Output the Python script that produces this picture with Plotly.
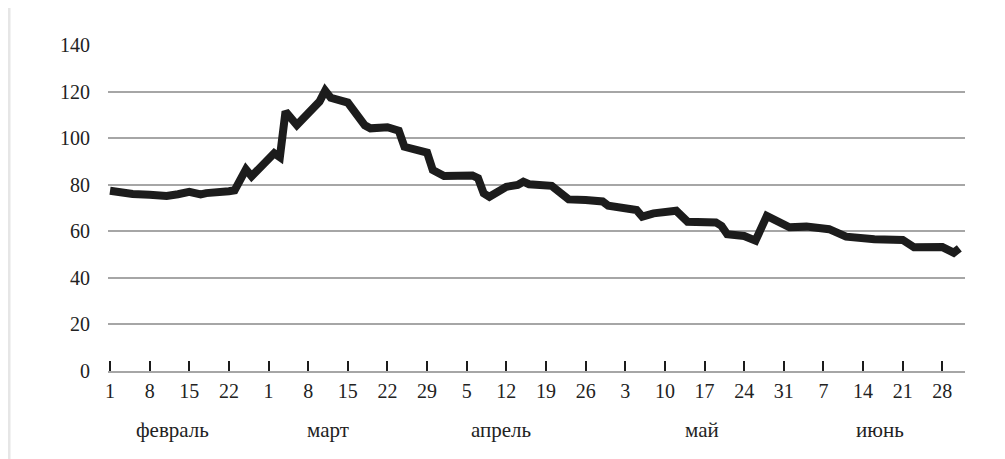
import plotly.graph_objects as go

dates = ["2022-02-01", "2022-02-03", "2022-02-05", "2022-02-08", "2022-02-11", "2022-02-13",
         "2022-02-15", "2022-02-17", "2022-02-18", "2022-02-22", "2022-02-23", "2022-02-25",
         "2022-02-26", "2022-03-02", "2022-03-03", "2022-03-04", "2022-03-06", "2022-03-10",
         "2022-03-11", "2022-03-12", "2022-03-15", "2022-03-18", "2022-03-19", "2022-03-22",
         "2022-03-24", "2022-03-25", "2022-03-29", "2022-03-30", "2022-04-01", "2022-04-06",
         "2022-04-07", "2022-04-08", "2022-04-09", "2022-04-12", "2022-04-14", "2022-04-15",
         "2022-04-16", "2022-04-20", "2022-04-23", "2022-04-26", "2022-04-28", "2022-04-29",
         "2022-04-30", "2022-05-05", "2022-05-06", "2022-05-08", "2022-05-12", "2022-05-14",
         "2022-05-19", "2022-05-20", "2022-05-21", "2022-05-24", "2022-05-26", "2022-05-28",
         "2022-06-01", "2022-06-04", "2022-06-08", "2022-06-10", "2022-06-11", "2022-06-16",
         "2022-06-21", "2022-06-23", "2022-06-28", "2022-06-30", "2022-07-01"]
values = [77.4, 76.6, 76.0, 75.7, 75.2, 75.9,
          76.9, 75.8, 76.4, 77.2, 77.6, 86.6,
          83.6, 93.5, 91.8, 111.4, 105.6, 115.7,
          120.4, 117.3, 115.3, 105.5, 104.2, 104.7,
          103.2, 96.3, 93.8, 86.3, 83.7, 84.0,
          82.8, 76.3, 74.8, 79.1, 79.9, 81.3,
          80.2, 79.5, 73.7, 73.4, 72.7, 72.8,
          71.0, 69.1, 66.3, 67.7, 68.8, 64.1,
          63.8, 62.3, 58.7, 58.0, 56.0, 66.6,
          61.7, 62.0, 60.9, 58.8, 57.7, 56.6,
          56.3, 53.1, 53.2, 50.8, 52.7]

tick_dates = ["2022-02-01", "2022-02-08", "2022-02-15", "2022-02-22", "2022-03-01", "2022-03-08",
              "2022-03-15", "2022-03-22", "2022-03-29", "2022-04-05", "2022-04-12", "2022-04-19",
              "2022-04-26", "2022-05-03", "2022-05-10", "2022-05-17", "2022-05-24", "2022-05-31",
              "2022-06-07", "2022-06-14", "2022-06-21", "2022-06-28"]
tick_text = ["1", "8", "15", "22", "1", "8", "15", "22", "29", "5", "12", "19",
             "26", "3", "10", "17", "24", "31", "7", "14", "21", "28"]

month_names = ["февраль", "март", "апрель", "май", "июнь"]
month_pos = ["2022-02-12 02:00", "2022-03-11 10:00", "2022-04-11 00:00", "2022-05-16 12:00", "2022-06-17 00:00"]

FONT = "Liberation Serif"

fig = go.Figure()
fig.add_trace(go.Scatter(x=dates, y=values, mode="lines",
                         line=dict(color="#1c1c1c", width=8, shape="linear"),
                         hoverinfo="skip", showlegend=False))

fig.update_layout(
    width=1005, height=459,
    margin=dict(l=100, r=48, t=37, b=96),
    paper_bgcolor="white", plot_bgcolor="white",
    font=dict(family=FONT, size=20, color="#222222"),
    showlegend=False,
)
fig.update_xaxes(
    type="date",
    range=["2022-01-31 15:30", "2022-07-02 00:00"],
    tickmode="array", tickvals=tick_dates, ticktext=tick_text,
    showgrid=False, zeroline=False,
    showline=True, linecolor="#a6a6a6", linewidth=2,
    ticks="inside", ticklen=10, tickwidth=2, tickcolor="#1c1c1c",
    ticklabelstandoff=1,
    tickfont=dict(family=FONT, size=20, color="#222222"),
)
fig.update_yaxes(
    range=[0, 140], tickvals=[0, 20, 40, 60, 80, 100, 120, 140],
    showgrid=True, gridcolor="#a6a6a6", gridwidth=2,
    zeroline=False, showline=False, ticks="",
    ticklabelstandoff=17,
    tickfont=dict(family=FONT, size=20, color="#222222"),
)
for name, pos in zip(month_names, month_pos):
    fig.add_annotation(x=pos, y=-0.181, xref="x", yref="paper", text=name,
                       showarrow=False, xanchor="center", yanchor="middle",
                       font=dict(family=FONT, size=21, color="#222222"))
# faint page edge on the left
fig.add_shape(type="line", xref="paper", yref="paper", x0=-0.1155, x1=-0.1155, y0=-0.3, y1=1.2,
              line=dict(color="#e6e6e6", width=3))

fig.write_html("out.html")
